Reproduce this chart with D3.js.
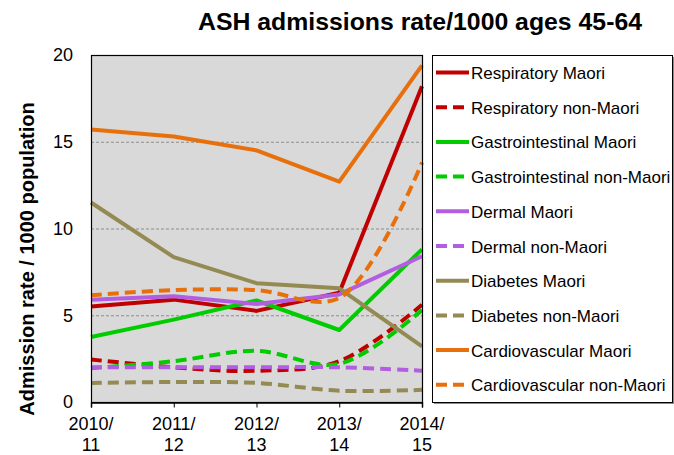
<!DOCTYPE html>
<html>
<head>
<meta charset="utf-8">
<script src="https://cdn.jsdelivr.net/npm/d3@7"></script>
<style>
  body { margin: 0; background: #fff; }
  text { font-family: "Liberation Sans", Arial, sans-serif; }
</style>
</head>
<body>
<div id="container"></div>
<script>
// chart data
let years = ['2010/11', '2011/12', '2012/13', '2013/14', '2014/15']
let seriesNames = [
  'Respiratory Maori', 'Respiratory non-Maori',
  'Gastrointestinal Maori', 'Gastrointestinal non-Maori',
  'Dermal Maori', 'Dermal non-Maori',
  'Diabetes Maori', 'Diabetes non-Maori',
  'Cardiovascular Maori', 'Cardiovascular non-Maori'
]
let respiratoryMaori = [5.5, 5.9, 5.25, 6.3, 18.2]
let respiratoryNonMaori = [2.45, 2.0, 1.8, 2.35, 5.6]
let gastroMaori = [3.75, 4.75, 5.85, 4.15, 8.8]
let gastroNonMaori = [1.95, 2.35, 2.95, 2.2, 5.3]
let dermalMaori = [5.9, 6.1, 5.65, 6.2, 8.4]
let dermalNonMaori = [2.0, 2.0, 2.0, 2.0, 1.8]
let diabetesMaori = [11.5, 8.35, 6.85, 6.55, 3.2]
let diabetesNonMaori = [1.1, 1.15, 1.1, 0.65, 0.7]
let cardioMaori = [15.7, 15.3, 14.5, 12.7, 19.4]
let cardioNonMaori = [6.15, 6.45, 6.45, 6.0, 13.8]
let yTicks = [0, 5, 10, 15, 20]

let width = 674,
  height = 455

let plot = { left: 91, right: 422, top: 55, bottom: 402 }

let seriesValues = [
  respiratoryMaori, respiratoryNonMaori, gastroMaori, gastroNonMaori,
  dermalMaori, dermalNonMaori, diabetesMaori, diabetesNonMaori,
  cardioMaori, cardioNonMaori
]
let colours = ['#c00000', '#00cc00', '#b35ee0', '#948a54', '#e8700c']

let series = seriesNames.map((name, i) => ({
  name: name,
  values: seriesValues[i],
  colour: colours[Math.floor(i / 2)],
  dashed: i % 2 === 1
}))

let svg = d3.select('#container')
  .append('svg')
  .attr('width', width)
  .attr('height', height)

let x = d3.scalePoint()
  .domain(years)
  .range([plot.left, plot.right])

let y = d3.scaleLinear()
  .domain([0, 20])
  .range([plot.bottom, plot.top])

// plot background
svg.append('rect')
  .attr('x', plot.left)
  .attr('y', plot.top)
  .attr('width', plot.right - plot.left)
  .attr('height', plot.bottom - plot.top)
  .attr('fill', '#d9d9d9')

// dashed gridlines
svg.append('g')
  .selectAll('line')
  .data(yTicks.filter(d => d > 0 && d < 20))
  .join('line')
  .attr('x1', plot.left)
  .attr('x2', plot.right)
  .attr('y1', d => y(d) + 0.5)
  .attr('y2', d => y(d) + 0.5)
  .attr('stroke', '#8c8c8c')
  .attr('stroke-width', 1)
  .attr('stroke-dasharray', '3,2')

// series lines (non-Maori ones are smoothed in the original)
let line = d3.line()
  .x((d, i) => x(years[i]))
  .y(d => y(d))

let smoothLine = d3.line()
  .x((d, i) => x(years[i]))
  .y(d => y(d))
  .curve(d3.curveCatmullRom.alpha(0.5))

svg.append('g')
  .selectAll('path')
  .data(series)
  .join('path')
  .attr('d', d => d.dashed ? smoothLine(d.values) : line(d.values))
  .attr('fill', 'none')
  .attr('stroke', d => d.colour)
  .attr('stroke-width', 4)
  .attr('stroke-linejoin', 'round')
  .attr('stroke-dasharray', d => d.dashed ? '11,6' : null)

// plot border
svg.append('rect')
  .attr('x', plot.left + 0.5)
  .attr('y', plot.top + 0.5)
  .attr('width', plot.right - plot.left)
  .attr('height', plot.bottom - plot.top)
  .attr('fill', 'none')
  .attr('stroke', '#000')
  .attr('stroke-width', 1.2)

// x axis
let xAxis = svg.append('g')
  .attr('transform', `translate(0,${plot.bottom + 0.5})`)
  .call(d3.axisBottom(x).tickSize(5).tickFormat(''))
xAxis.select('.domain').attr('stroke', '#000').attr('stroke-width', 1.5)
xAxis.selectAll('.tick line').attr('stroke', '#000')

let xLabels = svg.append('g')
  .selectAll('text')
  .data(years)
  .join('text')
  .attr('x', d => x(d))
  .attr('y', 430)
  .attr('text-anchor', 'middle')
  .attr('font-size', 18)
  .attr('fill', '#000')
xLabels.append('tspan')
  .attr('x', d => x(d))
  .text(d => d.split('/')[0] + '/')
xLabels.append('tspan')
  .attr('x', d => x(d))
  .attr('dy', 20.5)
  .text(d => d.split('/')[1])

// y axis labels
let yAxis = svg.append('g')
  .attr('transform', `translate(${plot.left},0)`)
  .call(d3.axisLeft(y).tickValues(yTicks).tickSize(0).tickPadding(18))
yAxis.select('.domain').remove()
yAxis.selectAll('text')
  .attr('font-size', 18)
  .attr('font-family', '"Liberation Sans", Arial, sans-serif')
  .attr('fill', '#000')

// title and axis title
svg.append('text')
  .attr('x', 420)
  .attr('y', 30)
  .attr('text-anchor', 'middle')
  .attr('font-size', 24)
  .attr('font-weight', 'bold')
  .attr('textLength', 444)
  .attr('lengthAdjust', 'spacingAndGlyphs')
  .text('ASH admissions rate/1000 ages 45-64')

svg.append('text')
  .attr('transform', 'translate(34,259) rotate(-90)')
  .attr('text-anchor', 'middle')
  .attr('font-size', 20)
  .attr('font-weight', 'bold')
  .text('Admission rate / 1000 population')

// legend
let legend = { left: 432, top: 55, right: 672, bottom: 402 }

svg.append('rect')
  .attr('x', legend.left + 2)
  .attr('y', legend.top + 2)
  .attr('width', legend.right - legend.left)
  .attr('height', legend.bottom - legend.top)
  .attr('fill', '#8c8c8c')

svg.append('rect')
  .attr('x', legend.left + 0.5)
  .attr('y', legend.top + 0.5)
  .attr('width', legend.right - legend.left)
  .attr('height', legend.bottom - legend.top)
  .attr('fill', '#fff')
  .attr('stroke', '#000')

let legendItems = svg.append('g')
  .selectAll('g')
  .data(series)
  .join('g')
  .attr('transform', (d, i) => `translate(0,${72.5 + i * 34.7})`)

legendItems.append('line')
  .attr('x1', 436)
  .attr('x2', 469)
  .attr('stroke', d => d.colour)
  .attr('stroke-width', 4)
  .attr('stroke-dasharray', d => d.dashed ? '11,6' : null)

legendItems.append('text')
  .attr('x', 471)
  .attr('y', 6.5)
  .attr('font-size', 17)
  .attr('fill', '#000')
  .text(d => d.name)
</script>
</body>
</html>
